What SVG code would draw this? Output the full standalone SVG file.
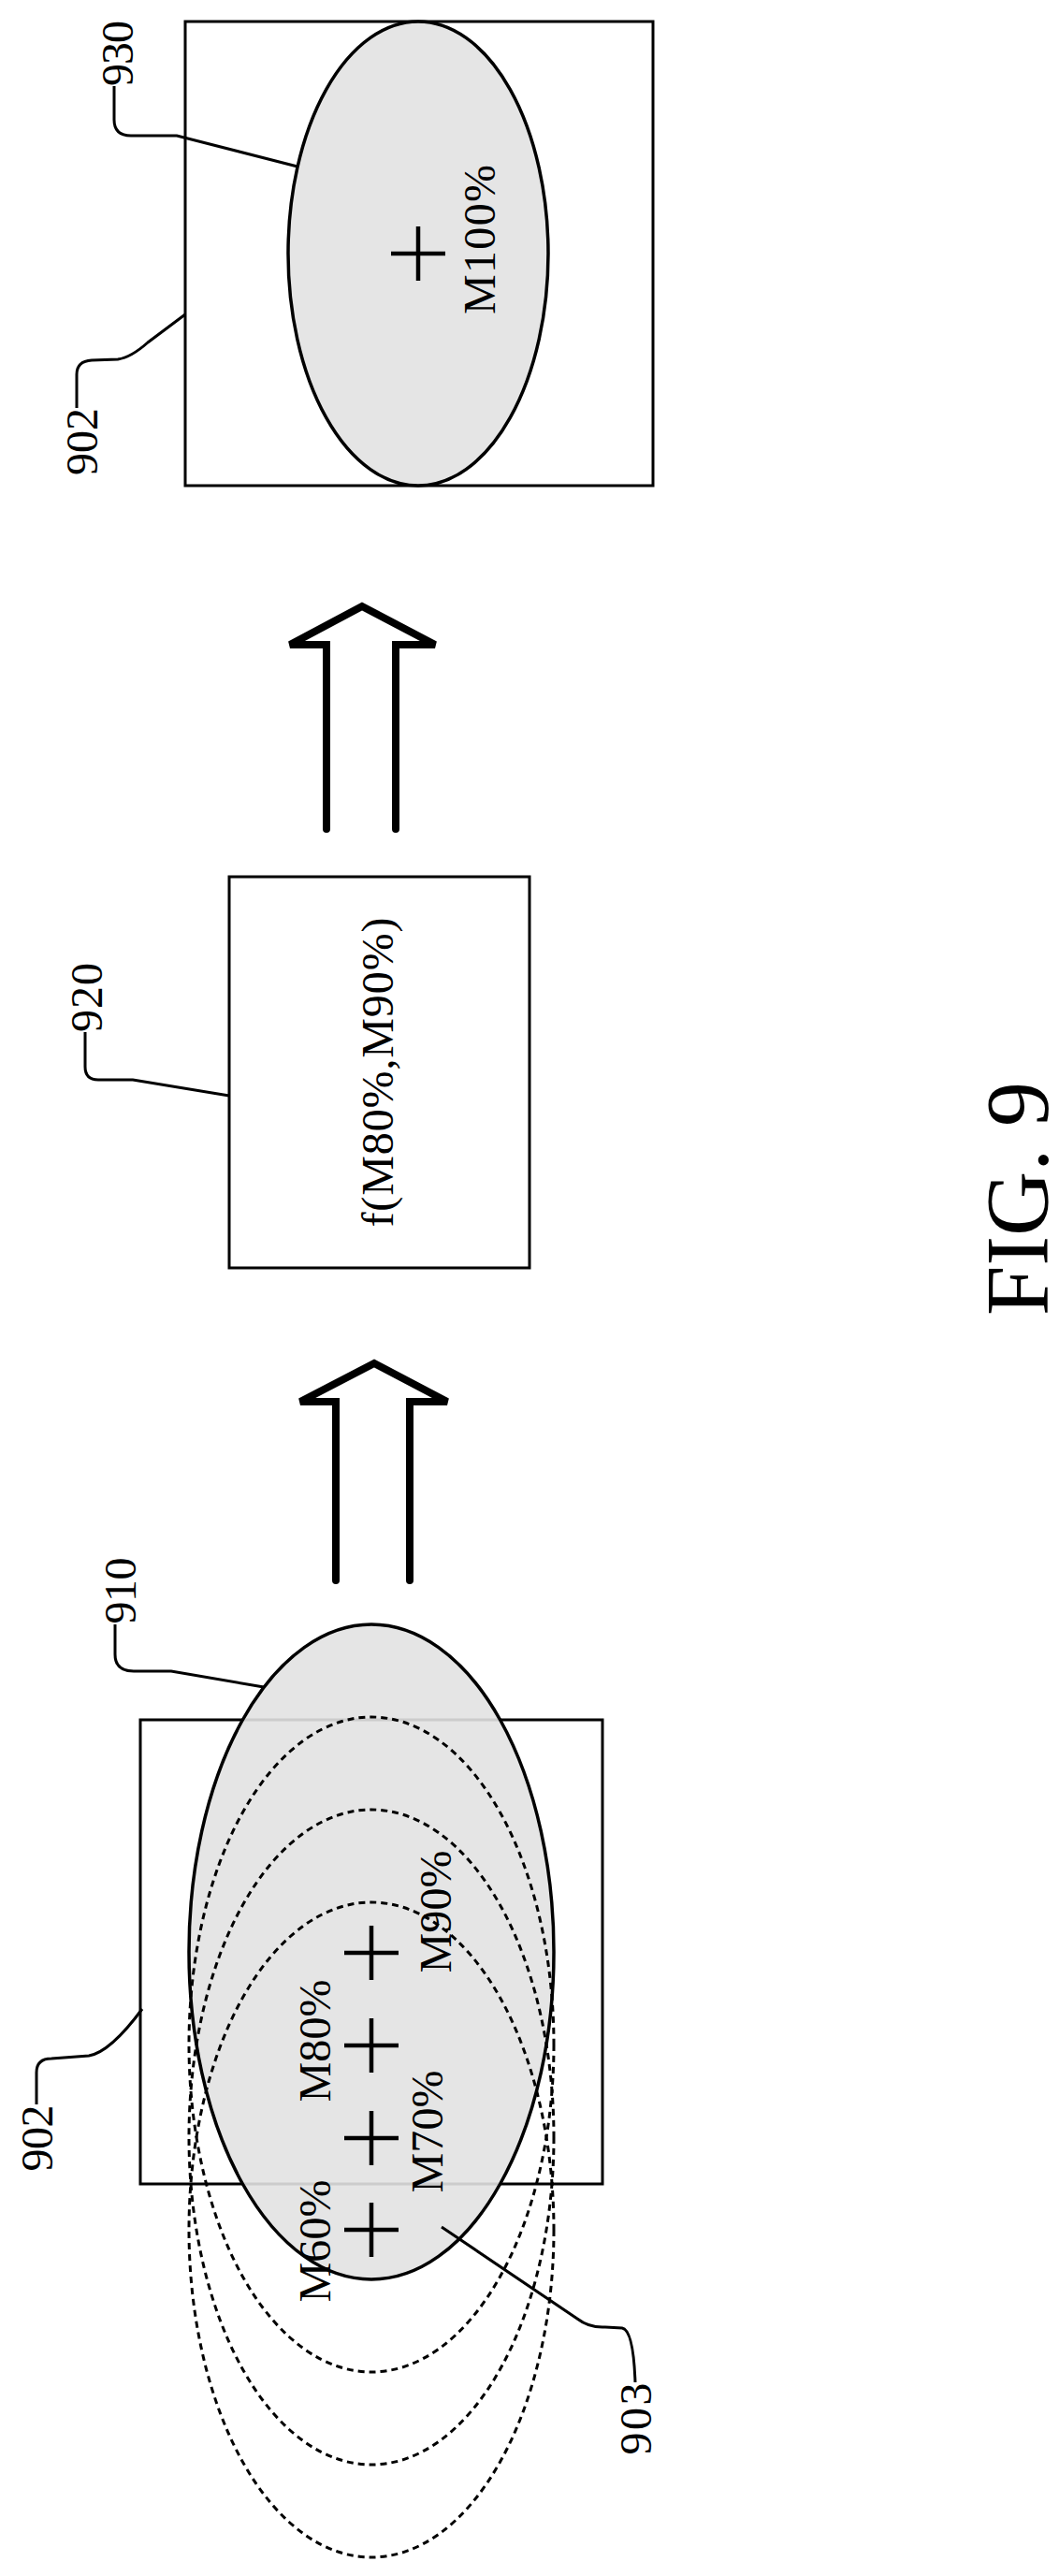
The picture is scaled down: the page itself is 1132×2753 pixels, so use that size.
<svg xmlns="http://www.w3.org/2000/svg" width="1132" height="2753" viewBox="0 0 1132 2753">
<style>
.ln{fill:none;stroke:#000;stroke-width:3}
.box{fill:none;stroke:#000;stroke-width:3}
.sh{fill:#e2e2e2;fill-opacity:0.9;stroke:#000;stroke-width:3.5}
.ds{fill:none;stroke:#000;stroke-width:3;stroke-dasharray:7 5}
.pl{fill:none;stroke:#000;stroke-width:4.5}
.ar{fill:none;stroke:#000;stroke-width:8;stroke-linecap:round;stroke-linejoin:miter}
text{font-family:"Liberation Serif","Times New Roman",serif;fill:#000;text-anchor:middle}
.t{font-size:48px}
.n{font-size:48px}
</style>
<rect width="1132" height="2753" fill="#fff"/>
<g id="node-930">
<rect class="box" x="198" y="23" width="500" height="496"/>
<ellipse class="sh" cx="447" cy="271" rx="139" ry="248"/>
<path class="pl" d="M418,271H476M447,242V300"/>
<text class="t" transform="translate(529,256) rotate(-90)" textLength="160">M100%</text>
</g>
<g id="node-920">
<rect class="box" x="245" y="937" width="321" height="418"/>
<text class="t" transform="translate(420,1146) rotate(-90)" textLength="331">f(M80%,M90%)</text>
</g>
<g id="node-910">
<rect class="box" x="150" y="1838" width="494" height="496"/>
<ellipse class="sh" cx="397" cy="2086" rx="195" ry="350"/>
<ellipse class="ds" cx="397" cy="2185" rx="195" ry="350"/>
<ellipse class="ds" cx="397" cy="2284" rx="195" ry="350"/>
<ellipse class="ds" cx="397" cy="2383" rx="195" ry="350"/>
<path class="pl" d="M368,2087H426M397,2058V2116M368,2186H426M397,2157V2215M368,2285H426M397,2256V2314M368,2383H426M397,2354V2412"/>
<text class="t" transform="translate(353,2395) rotate(-90)" textLength="131">M60%</text>
<text class="t" transform="translate(353,2181) rotate(-90)" textLength="131">M80%</text>
<text class="t" transform="translate(473,2278) rotate(-90)" textLength="131">M70%</text>
<text class="t" transform="translate(482,2043) rotate(-90)" textLength="131">M90%</text>
</g>
<g id="labels">
<text class="n" transform="translate(142,57) rotate(-90)" textLength="70">930</text>
<text class="n" transform="translate(104,472) rotate(-90)" textLength="72">902</text>
<text class="n" transform="translate(109,1066) rotate(-90)" textLength="74">920</text>
<text class="n" transform="translate(145,1700) rotate(-90)" textLength="71">910</text>
<text class="n" transform="translate(56,2285) rotate(-90)" textLength="71">902</text>
<text class="n" transform="translate(696,2585) rotate(-90)" textLength="77">903</text>
<text style="font-size:96px" transform="translate(1120,1281) rotate(-90)" textLength="250">FIG. 9</text>
</g>
<g id="connectors">
<path class="ln" d="M122,92V128Q122,145 140,145L189,145L318,178"/>
<path class="ln" d="M82,436V400Q82,386 98,385L126,384Q140,382 158,366L198,336"/>
<path class="ln" d="M91,1103V1140Q91,1154 105,1154L142,1154L245,1171"/>
<path class="ln" d="M123,1736V1768Q123,1786 143,1786L183,1786L282,1803"/>
<path class="ln" d="M39,2249V2215Q39,2200 55,2200L95,2197Q118,2193 152,2147"/>
<path class="ln" d="M472,2380L617,2478Q630,2488 647,2487L665,2488Q677,2490 679,2546"/>
<path class="ar" d="M349,886V689H310L387,648L465,689H423V886"/>
<path class="ar" d="M359,1689V1498H321L400,1457L478,1498H438V1689"/>
</g>
</svg>
